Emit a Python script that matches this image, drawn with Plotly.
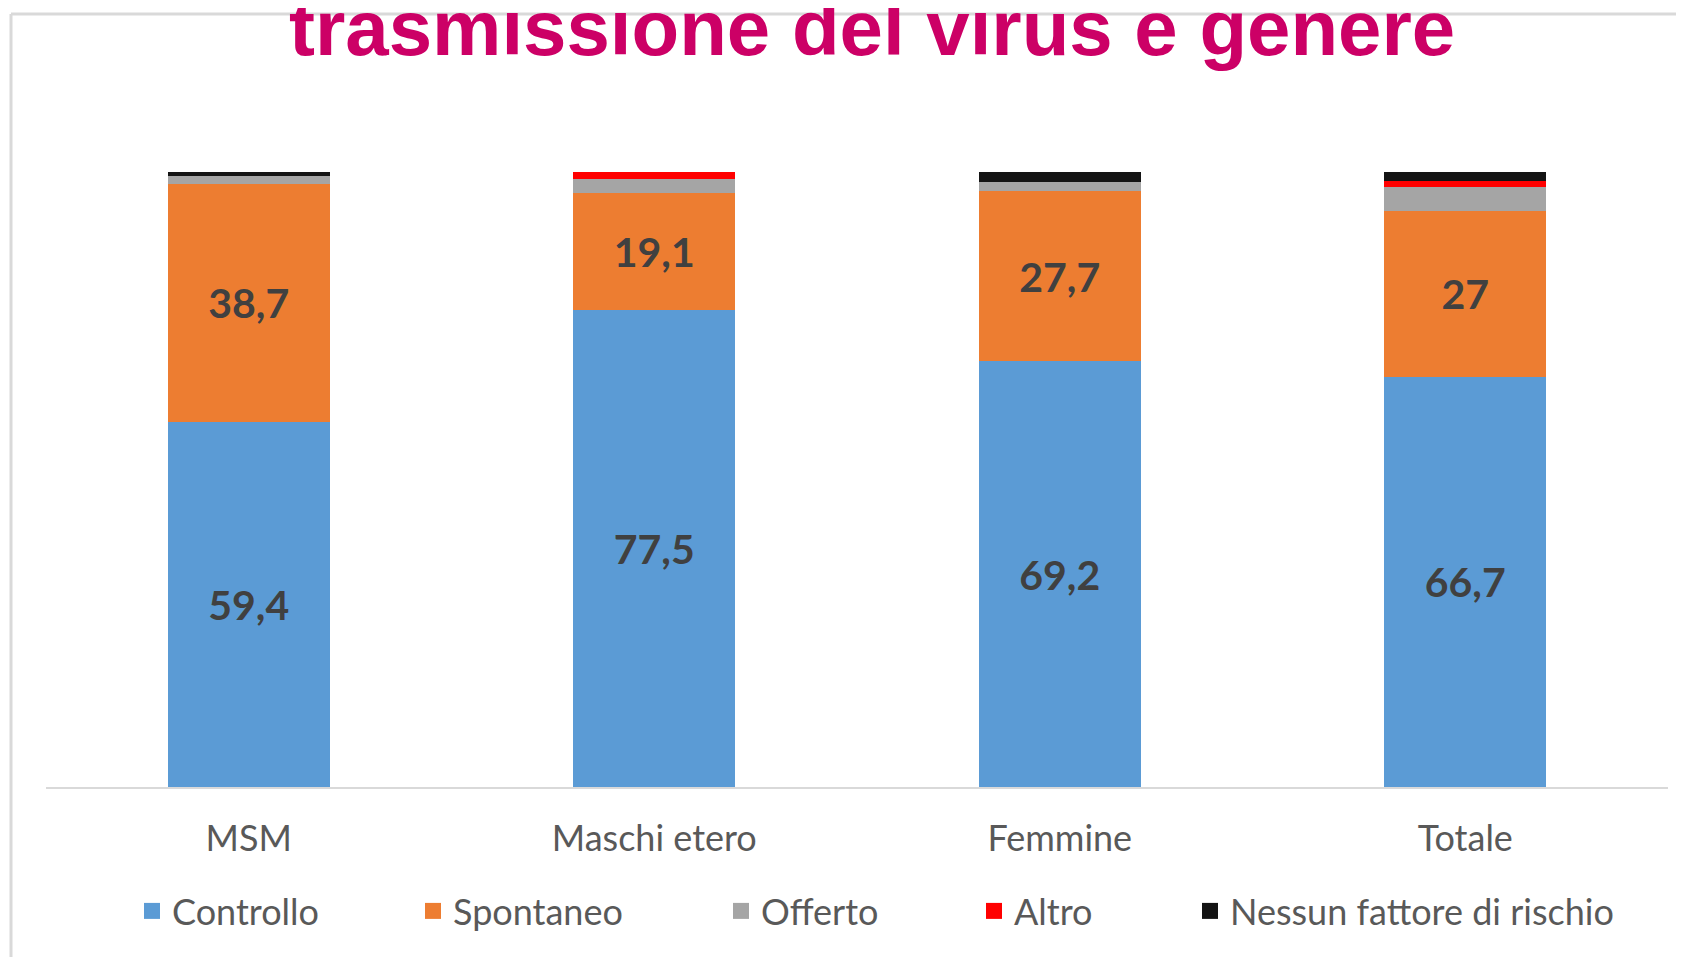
import plotly.graph_objects as go

categories = ["MSM", "Maschi etero", "Femmine", "Totale"]
controllo = [59.4, 77.5, 69.2, 66.7]
spontaneo = [38.7, 19.1, 27.7, 27]
offerto = [1.2, 2.3, 1.5, 3.8]
altro = [0.0, 1.1, 0.0, 1.1]
nessun = [0.7, 0.0, 1.6, 1.4]

series = [
    ("Controllo", controllo, "#5B9BD5", True),
    ("Spontaneo", spontaneo, "#ED7D31", True),
    ("Offerto", offerto, "#A5A5A5", False),
    ("Altro", altro, "#FF0000", False),
    ("Nessun fattore di rischio", nessun, "#141414", False),
]

OFF = 8  # default page body margin
W, H = 1684, 957
# desired on-page plot area: x 46..1668, y 172..787
L = 46 - OFF
R = W - (1668 - OFF)
T = 172 - OFF
B = H - (787 - OFF)
pw, ph = W - L - R, H - T - B

def px2x(px):
    return (px - OFF - L) / pw

def px2y(py):
    return (H - B - (py - OFF)) / ph

# page x where each legend text starts
legend_text_x = [172, 453, 761, 1014, 1230]

fig = go.Figure()
for i, (name, vals, color, labeled) in enumerate(series):
    txt = [f"{v:g}".replace(".", ",") for v in vals] if labeled else None
    fig.add_trace(go.Bar(
        x=categories, y=vals, name=name,
        marker=dict(color=color, line=dict(width=0)),
        text=txt,
        textposition="inside" if labeled else "none",
        insidetextanchor="middle",
        textangle=0,
        textfont=dict(family="Lato", size=41, color="#404040", weight="bold"),
        showlegend=False,
        hoverinfo="skip",
    ))
    # legend-only entry with a larger square swatch
    fig.add_trace(go.Scatter(
        x=[None], y=[None], mode="markers", name=name,
        marker=dict(symbol="square", size=16, color=color),
        legend="legend" if i == 0 else f"legend{i+1}",
        hoverinfo="skip",
    ))

legend_common = dict(
    orientation="h", yanchor="middle", xanchor="left",
    font=dict(family="Lato", size=36, color="#595959"),
    bgcolor="rgba(0,0,0,0)", borderwidth=0,
)
layout_legends = {}
for i, tx in enumerate(legend_text_x):
    key = "legend" if i == 0 else f"legend{i+1}"
    layout_legends[key] = dict(legend_common, x=px2x(tx - 40), y=px2y(911))

fig.update_layout(
    width=W, height=H,
    margin=dict(l=L, r=R, t=T, b=B, autoexpand=False),
    barmode="stack", bargap=0.6,
    plot_bgcolor="white", paper_bgcolor="white",
    showlegend=True,
    xaxis=dict(
        showline=True, linecolor="#D9D9D9", linewidth=2,
        showgrid=False, ticks="", zeroline=False,
        tickfont=dict(family="Lato", size=36, color="#595959"),
        ticklabelstandoff=19,
    ),
    yaxis=dict(range=[0, 100], visible=False, showgrid=False, zeroline=False),
    shapes=[
        dict(type="line", xref="paper", yref="paper",
             x0=px2x(11), x1=px2x(W + 20), y0=px2y(14), y1=px2y(14),
             line=dict(color="#D9D9D9", width=3), layer="below"),
        dict(type="line", xref="paper", yref="paper",
             x0=px2x(11), x1=px2x(11), y0=px2y(14), y1=px2y(H + 20),
             line=dict(color="#D9D9D9", width=3), layer="below"),
    ],
    annotations=[
        dict(text="<b>trasmissione del virus e genere</b>",
             xref="paper", yref="paper", x=px2x(872), y=px2y(28),
             xanchor="center", yanchor="middle", showarrow=False,
             font=dict(family="Liberation Sans", size=78, color="#CC0066")),
    ],
    **layout_legends,
)

fig.write_html("out.html")
